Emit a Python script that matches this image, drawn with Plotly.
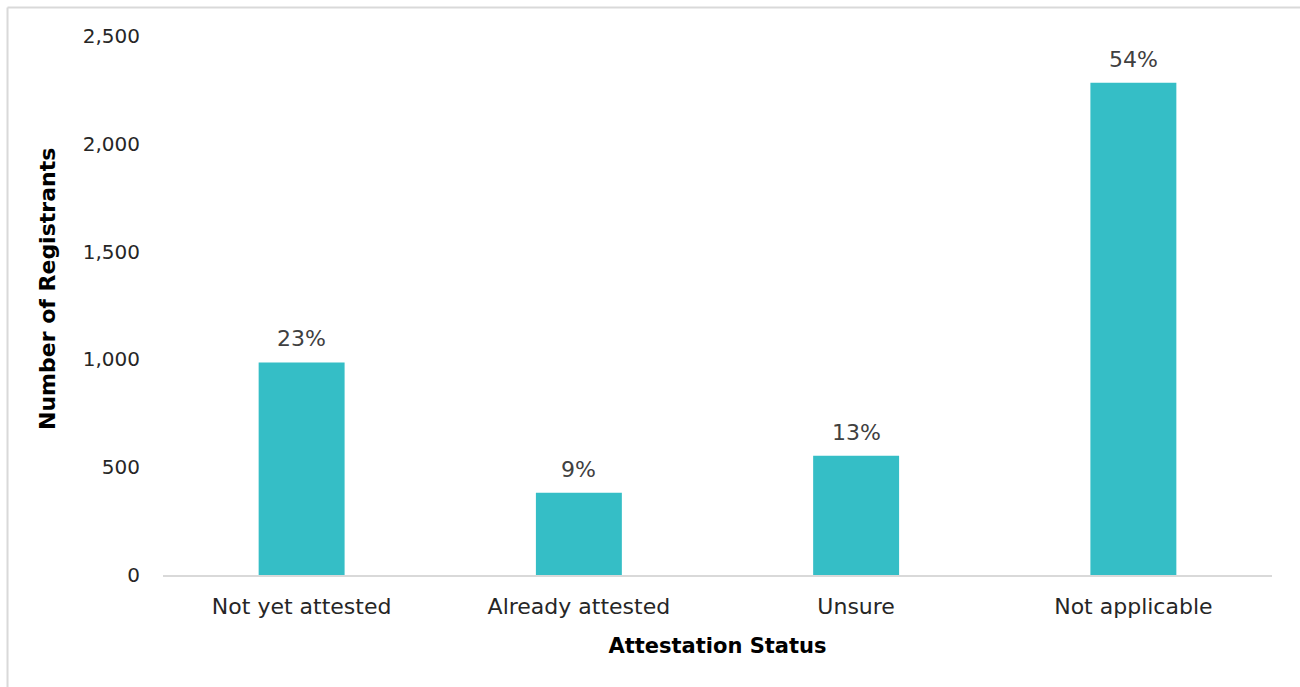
import plotly.graph_objects as go

categories = ["Not yet attested", "Already attested", "Unsure", "Not applicable"]
registrants = [986, 381, 553, 2283]
pct_labels = ["23%", "9%", "13%", "54%"]
y_ticks = [0, 500, 1000, 1500, 2000, 2500]
y_tick_text = ["0", "500", "1,000", "1,500", "2,000", "2,500"]

FONT = "DejaVu Sans"
BAR = "#35BEC6"

fig = go.Figure()
fig.add_trace(go.Bar(x=categories, y=registrants, marker=dict(color=BAR, line=dict(width=0)),
                     width=0.31, hoverinfo="x+y"))

for c, v, t in zip(categories, registrants, pct_labels):
    fig.add_annotation(x=c, y=v, text=t, showarrow=False, yanchor="bottom", yshift=9,
                       font=dict(family=FONT, size=22, color="#404040"))

# y-axis title (placed slightly above plot-area centre, as in the original)
fig.add_annotation(xref="paper", yref="paper", x=-0.1046, y=0.5306, text="<b>Number of Registrants</b>",
                   textangle=-90, showarrow=False, xanchor="center", yanchor="middle",
                   font=dict(family=FONT, size=22, color="#000000"))

# outer chart frame (left and top edges visible in the crop)
fig.add_shape(type="line", xref="paper", yref="paper", x0=-0.1402, x1=-0.1402, y0=-0.3, y1=1.053,
              line=dict(color="#d9d9d9", width=2))
fig.add_shape(type="line", xref="paper", yref="paper", x0=-0.1402, x1=1.2, y0=1.053, y1=1.053,
              line=dict(color="#d9d9d9", width=2))

fig.update_layout(
    width=1300, height=687,
    margin=dict(l=163, r=28, t=36, b=112),
    paper_bgcolor="white", plot_bgcolor="white",
    showlegend=False,
    font=dict(family=FONT, size=20, color="#262626"),
    xaxis=dict(
        showline=True, linecolor="#d9d9d9", linewidth=2, ticks="", showgrid=False,
        ticklabelstandoff=11,
        tickfont=dict(family=FONT, size=22, color="#262626"),
        title=dict(text="<b>Attestation Status</b>", font=dict(family=FONT, size=21, color="#000000"), standoff=20),
    ),
    yaxis=dict(
        range=[0, 2500], tickvals=y_ticks, ticktext=y_tick_text, showgrid=False, zeroline=False,
        showline=False, ticks="", ticklabelstandoff=22,
        tickfont=dict(family=FONT, size=20, color="#262626"),
    ),
)

fig.write_html("out.html")
